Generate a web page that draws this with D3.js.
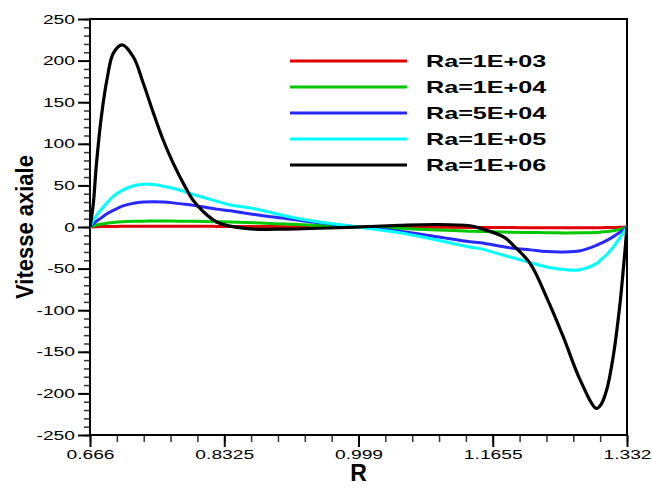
<!DOCTYPE html>
<html>
<head>
<meta charset="utf-8">
<script src="https://cdn.jsdelivr.net/npm/d3@7"></script>
<style>
  body { margin: 0; background: #fff; }
  text { font-family: "Liberation Sans", Arial, sans-serif; }
</style>
</head>
<body>
<div id="chart"></div>
<script>
(function vitesse(){

  // radial positions
  const R = [0.666, 0.670, 0.674, 0.680, 0.687, 0.695, 0.706, 0.720, 0.732, 0.745,
    0.757, 0.769, 0.782, 0.794, 0.807, 0.823, 0.840, 0.870, 0.910, 0.950,
    0.999, 1.050, 1.096, 1.137, 1.150, 1.179, 1.191, 1.212, 1.232, 1.253,
    1.274, 1.294, 1.300, 1.307, 1.315, 1.323, 1.328, 1.332];

  const ra1e3 = [0, 0.2, 0.35, 0.5, 0.6, 0.7, 0.8, 0.85, 0.9, 0.9,
    0.9, 0.9, 0.9, 0.85, 0.8, 0.75, 0.7, 0.55, 0.4, 0.2,
    0, -0.2, -0.4, -0.55, -0.6, -0.7, -0.75, -0.8, -0.85, -0.9,
    -0.9, -0.85, -0.8, -0.75, -0.6, -0.4, -0.2, 0];
  const ra1e4 = [0, 1.5, 2.5, 3.5, 4.5, 5.5, 6.3, 6.8, 7, 7.2,
    7.2, 7.1, 7, 6.8, 6.6, 6.4, 6, 5, 3.5, 1.8,
    0, -1.8, -3.5, -5, -5.4, -6, -6.3, -6.6, -6.9, -7.1,
    -7, -6.5, -6, -5.5, -4.5, -3, -1.5, 0];
  const ra5e4 = [0, 4, 7, 11, 16, 20, 25, 28.5, 30, 30.4,
    30, 29, 27.5, 26, 24, 21.5, 19.5, 15, 10, 5,
    0, -5, -11.6, -17.6, -19, -23.7, -25.5, -27.5, -29.5, -30,
    -28.5, -22, -19.5, -16, -11.6, -6.5, -3.2, 0];
  const ra1e5 = [0, 8, 14, 21, 29, 37, 44, 49.5, 51.5, 51,
    49, 46.5, 43, 39, 35.5, 31, 26.4, 22, 13, 6,
    0, -7, -15.6, -24, -26, -34, -37, -43, -48, -51,
    -51.5, -44, -39, -33, -24, -13, -6, 0];
  const ra1e6 = [0, 27, 76, 132, 177, 209, 219, 204, 173, 136,
    104, 77, 52, 32, 18, 6, 1, -2.5, -2.5, -1.5,
    0, 2, 3, 1.5, -1.6, -12, -22, -44, -84, -132,
    -184, -218, -213, -195, -155, -95, -45, 0];

  const seriesNames = ["Ra=1E+03", "Ra=1E+04", "Ra=5E+04", "Ra=1E+05", "Ra=1E+06"];
  const seriesValues = [ra1e3, ra1e4, ra5e4, ra1e5, ra1e6];
  const colors = ["#e00000", "#00c800", "#2828ff", "#00ffff", "#000000"];

  const xTicks = [0.666, 0.8325, 0.999, 1.1655, 1.332];
  const xTickLabels = ["0.666", "0.8325", "0.999", "1.1655", "1.332"];
  const yTicks = [-250, -200, -150, -100, -50, 0, 50, 100, 150, 200, 250];

  let width = 652,
    height = 493,
    margin = {top: 19, right: 25, bottom: 58, left: 90},
    stretch = 1.48;

  const x = d3.scaleLinear().domain([0.666, 1.332]).range([margin.left, width - margin.right]);
  const y = d3.scaleLinear().domain([-250, 250]).range([height - margin.bottom, margin.top]);

  const svg = d3.select("#chart")
    .append("svg")
    .attr("width", width)
    .attr("height", height);

  svg.append("defs").append("clipPath").attr("id", "clip")
    .append("rect")
    .attr("x", margin.left).attr("y", margin.top)
    .attr("width", x.range()[1] - x.range()[0])
    .attr("height", y.range()[0] - y.range()[1]);

  // minor ticks
  const xMinor = d3.range(0, 21).map(i => 0.666 + i * 0.0333);
  const yMinor = d3.range(-250, 251, 10);

  svg.append("g")
    .attr("transform", `translate(0,${y(-250)})`)
    .call(d3.axisBottom(x).tickValues(xMinor).tickSize(7).tickFormat(""))
    .call(g => g.select(".domain").remove())
    .selectAll("line").attr("stroke", "#333").attr("stroke-width", 1.5);

  svg.append("g")
    .attr("transform", `translate(${x(0.666)},0)`)
    .call(d3.axisLeft(y).tickValues(yMinor).tickSize(6).tickFormat(""))
    .call(g => g.select(".domain").remove())
    .selectAll("line").attr("stroke", "#333").attr("stroke-width", 1.5);

  // major ticks + labels
  const gx = svg.append("g")
    .attr("transform", `translate(0,${y(-250)})`)
    .call(d3.axisBottom(x).tickValues(xTicks).tickSize(12).tickPadding(3)
      .tickFormat((d, i) => xTickLabels[i]))
    .call(g => g.select(".domain").remove());
  gx.selectAll("line").attr("stroke", "#000").attr("stroke-width", 2);
  gx.selectAll("text")
    .attr("font-size", 13)
    .attr("fill", "#000")
    .attr("font-family", "Liberation Sans, Arial, sans-serif")
    .attr("transform", `scale(${stretch},1)`);

  const gy = svg.append("g")
    .attr("transform", `translate(${x(0.666)},0)`)
    .call(d3.axisLeft(y).tickValues(yTicks).tickSize(12).tickPadding(3)
      .tickFormat(d => String(d)))
    .call(g => g.select(".domain").remove());
  gy.selectAll("line").attr("stroke", "#000").attr("stroke-width", 2);
  gy.selectAll("text")
    .attr("font-size", 13)
    .attr("fill", "#000")
    .attr("font-family", "Liberation Sans, Arial, sans-serif")
    .attr("x", -15 / stretch)
    .attr("transform", `scale(${stretch},1)`);

  // frame
  svg.append("rect")
    .attr("x", x(0.666)).attr("y", y(250))
    .attr("width", x(1.332) - x(0.666))
    .attr("height", y(-250) - y(250))
    .attr("fill", "none")
    .attr("stroke", "#000")
    .attr("stroke-width", 2);

  // curves
  const line = d3.line()
    .x((d, i) => x(R[i]))
    .y(d => y(d))
    .curve(d3.curveCatmullRom.alpha(0.5));

  svg.append("g")
    .attr("clip-path", "url(#clip)")
    .attr("fill", "none")
    .attr("stroke-linejoin", "round")
    .selectAll("path")
    .data(seriesValues)
    .join("path")
    .attr("stroke", (d, i) => colors[i])
    .attr("stroke-width", (d, i) => i === 4 ? 3.2 : 3)
    .attr("d", line);

  // legend
  const legend = svg.append("g")
    .selectAll("g")
    .data(seriesNames)
    .join("g")
    .attr("transform", (d, i) => `translate(290,${61 + i * 26})`);

  legend.append("line")
    .attr("x1", 0).attr("x2", 117)
    .attr("stroke", (d, i) => colors[i])
    .attr("stroke-width", 3);

  legend.append("text")
    .attr("transform", `translate(136,6) scale(${stretch},1)`)
    .attr("font-size", 17)
    .attr("font-weight", "bold")
    .text(d => d);

  // axis titles
  svg.append("text")
    .attr("x", x(0.999))
    .attr("y", 481)
    .attr("text-anchor", "middle")
    .attr("font-size", 23)
    .attr("font-weight", "bold")
    .text("R");

  svg.append("text")
    .attr("transform", `translate(33,${y(0)}) rotate(-90) scale(1,1.12)`)
    .attr("text-anchor", "middle")
    .attr("font-size", 22)
    .attr("font-weight", "bold")
    .text("Vitesse axiale");

})();
</script>
</body>
</html>
